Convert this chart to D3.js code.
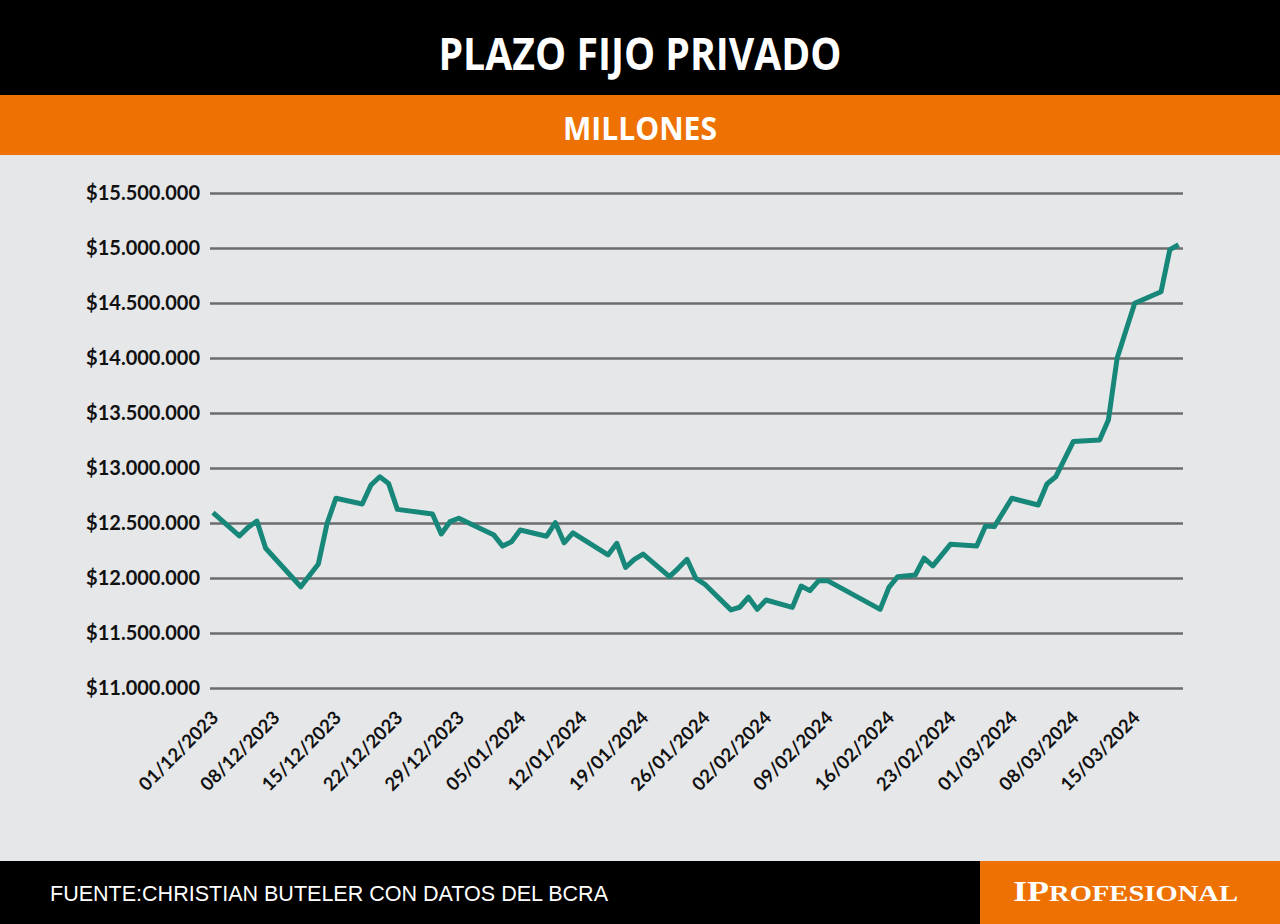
<!DOCTYPE html>
<html>
<head>
<meta charset="utf-8">
<script src="https://cdn.jsdelivr.net/npm/d3@7"></script>
<style>
  body { margin: 0; background: #fff; }
  svg { display: block; }
</style>
</head>
<body>
<div id="container"></div>
<script>
// fechas (dd/mm/yyyy) y saldo de plazo fijo privado en pesos
let dates = ['01/12/2023', '04/12/2023', '05/12/2023', '06/12/2023', '07/12/2023', '11/12/2023',
  '13/12/2023', '14/12/2023', '15/12/2023', '18/12/2023', '19/12/2023', '20/12/2023', '21/12/2023',
  '22/12/2023', '26/12/2023', '27/12/2023', '28/12/2023', '29/12/2023', '02/01/2024', '03/01/2024',
  '04/01/2024', '05/01/2024', '08/01/2024', '09/01/2024', '10/01/2024', '11/01/2024', '15/01/2024',
  '16/01/2024', '17/01/2024', '18/01/2024', '19/01/2024', '22/01/2024', '23/01/2024', '24/01/2024',
  '25/01/2024', '26/01/2024', '29/01/2024', '30/01/2024', '31/01/2024', '01/02/2024', '02/02/2024',
  '05/02/2024', '06/02/2024', '07/02/2024', '08/02/2024', '09/02/2024', '15/02/2024', '16/02/2024',
  '17/02/2024', '19/02/2024', '20/02/2024', '21/02/2024', '23/02/2024', '26/02/2024', '27/02/2024',
  '28/02/2024', '01/03/2024', '04/03/2024', '05/03/2024', '06/03/2024', '08/03/2024', '11/03/2024',
  '12/03/2024', '13/03/2024', '14/03/2024', '15/03/2024', '18/03/2024', '19/03/2024', '20/03/2024']

let values = [12594000, 12382000, 12460000, 12518000, 12270000, 11920000,
  12127000, 12497000, 12725000, 12673000, 12845000, 12920000, 12860000,
  12624000, 12582000, 12400000, 12512000, 12543000, 12390000, 12290000,
  12330000, 12436000, 12380000, 12503000, 12320000, 12410000, 12210000,
  12315000, 12097000, 12170000, 12218000, 12012000, 12088000, 12170000,
  11997000, 11945000, 11710000, 11734000, 11825000, 11715000, 11800000,
  11733000, 11927000, 11885000, 11976000, 11976000, 11715000, 11915000,
  12012000, 12027000, 12180000, 12110000, 12306000, 12290000, 12473000,
  12467000, 12725000, 12664000, 12855000, 12920000, 13240000, 13255000,
  13436000, 14000000, 14250000, 14497000, 14603000, 14985000, 15030000]

let y_ticks = [11000000, 11500000, 12000000, 12500000, 13000000, 13500000,
  14000000, 14500000, 15000000, 15500000]

let x_ticks = ['01/12/2023', '08/12/2023', '15/12/2023', '22/12/2023', '29/12/2023',
  '05/01/2024', '12/01/2024', '19/01/2024', '26/01/2024', '02/02/2024', '09/02/2024',
  '16/02/2024', '23/02/2024', '01/03/2024', '08/03/2024', '15/03/2024']

let title = 'PLAZO FIJO PRIVADO',
  subtitle = 'MILLONES',
  source = 'FUENTE:CHRISTIAN BUTELER CON DATOS DEL BCRA'

let width = 1280,
  height = 924

let parse = d3.timeParse('%d/%m/%Y')
let data = dates.map(function (d, i) {
  return { date: parse(d), value: values[i] }
})

let svg = d3.select('#container')
  .append('svg')
  .attr('width', width)
  .attr('height', height)

// fondos
svg.append('rect').attr('width', width).attr('height', height).attr('fill', '#e6e7e8')
svg.append('rect').attr('width', width).attr('height', 95).attr('fill', '#000')
svg.append('rect').attr('y', 95).attr('width', width).attr('height', 60).attr('fill', '#ee7203')
svg.append('rect').attr('y', 861).attr('width', width).attr('height', 63).attr('fill', '#000')
svg.append('rect').attr('x', 980).attr('y', 861).attr('width', 300).attr('height', 63).attr('fill', '#ee7203')

svg.append('text')
  .attr('x', 640).attr('y', 70)
  .attr('text-anchor', 'middle')
  .attr('textLength', 403).attr('lengthAdjust', 'spacingAndGlyphs')
  .style('font', 'bold 45px "Open Sans", sans-serif')
  .attr('fill', '#fff')
  .text(title)

svg.append('text')
  .attr('x', 640).attr('y', 140)
  .attr('text-anchor', 'middle')
  .attr('textLength', 154).attr('lengthAdjust', 'spacingAndGlyphs')
  .style('font', 'bold 32px "Open Sans", sans-serif')
  .attr('fill', '#fff')
  .text(subtitle)

svg.append('text')
  .attr('x', 50).attr('y', 901)
  .attr('textLength', 558).attr('lengthAdjust', 'spacingAndGlyphs')
  .style('font', '22px "Liberation Sans", Arial, sans-serif')
  .attr('fill', '#fff')
  .text(source)

// logo
let logo = svg.append('text')
  .attr('x', 1013).attr('y', 901)
  .attr('textLength', 225).attr('lengthAdjust', 'spacingAndGlyphs')
  .style('font-family', '"Liberation Serif", "DejaVu Serif", serif')
  .style('font-weight', 'bold')
  .attr('fill', '#fff')
logo.append('tspan').style('font-size', '29px').text('IP')
logo.append('tspan').style('font-size', '23px').text('ROFESIONAL')

let scale_x = d3.scaleTime()
  .domain([parse('01/12/2023'), d3.timeHour.offset(parse('20/03/2024'), 12)])
  .range([213, 1183])

let scale_y = d3.scaleLinear()
  .domain([11000000, 15500000])
  .range([688, 193])

let fmt = function (v) {
  return '$' + d3.format(',')(v).replace(/,/g, '.')
}

// grilla y etiquetas del eje y
let y_axis = d3.axisLeft(scale_y)
  .tickValues(y_ticks)
  .tickSize(-(1183 - 210))
  .tickPadding(10)
  .tickFormat(fmt)

let gy = svg.append('g')
  .attr('transform', 'translate(210,0)')
  .call(y_axis)
gy.select('.domain').remove()
gy.selectAll('.tick line')
  .attr('stroke', '#6b6c6e')
  .attr('stroke-width', 2.5)
gy.selectAll('.tick text')
  .attr('fill', '#111')
  .style('font', 'bold 20px Lato, "Open Sans", sans-serif')

// eje x
let x_axis = d3.axisBottom(scale_x)
  .tickValues(x_ticks.map(parse))
  .tickSize(0)
  .tickFormat(d3.timeFormat('%d/%m/%Y'))

let gx = svg.append('g')
  .attr('transform', 'translate(0,688)')
  .call(x_axis)
gx.select('.domain').remove()
gx.selectAll('.tick text')
  .attr('text-anchor', 'end')
  .attr('transform', 'translate(6,31) rotate(-45)')
  .attr('y', 0).attr('dy', 0)
  .attr('fill', '#111')
  .style('font', 'bold 18.5px Lato, "Open Sans", sans-serif')

let line_generator = d3.line()
  .x(function (d) { return scale_x(d.date) })
  .y(function (d) { return scale_y(d.value) })

svg.append('path')
  .datum(data)
  .attr('d', line_generator)
  .attr('fill', 'none')
  .attr('stroke', '#17877a')
  .attr('stroke-width', 5)
  .attr('stroke-linejoin', 'round')
</script>
</body>
</html>
